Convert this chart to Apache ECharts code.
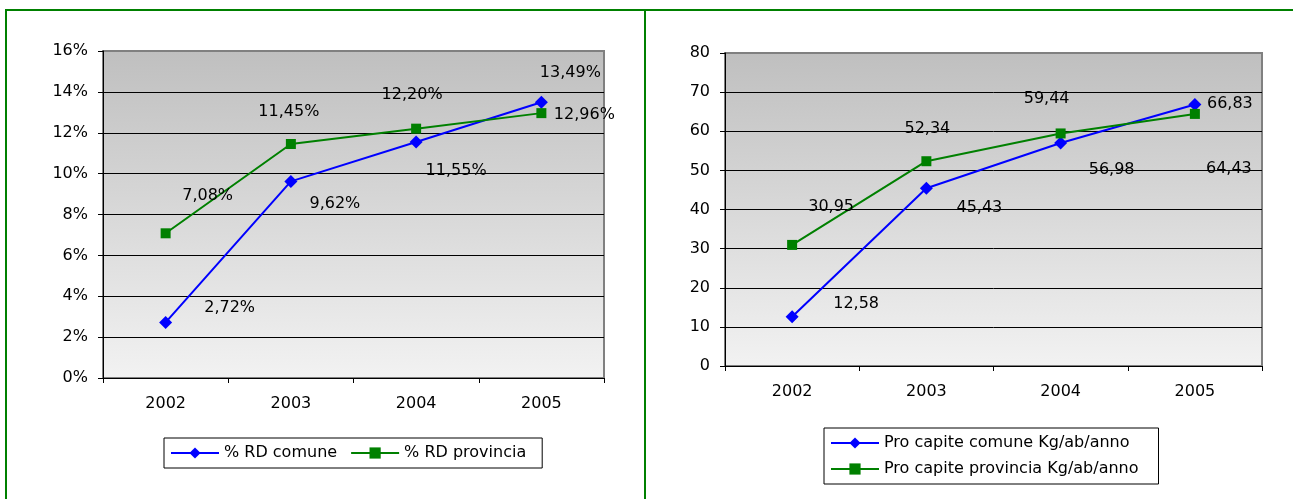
<!DOCTYPE html>
<html>
<head>
<meta charset="utf-8">
<script src="https://cdn.jsdelivr.net/npm/echarts@6/dist/echarts.min.js"></script>
<style>
  html, body { margin: 0; padding: 0; background: #fff; }
  #chart { width: 1293px; height: 499px; }
</style>
</head>
<body>
<div id="chart"></div>
<script>
// data
const years = ['2002', '2003', '2004', '2005']
const pctComune = [2.72, 9.62, 11.55, 13.49]
const pctProvincia = [7.08, 11.45, 12.20, 12.96]
const kgComune = [12.58, 45.43, 56.98, 66.83]
const kgProvincia = [30.95, 52.34, 59.44, 64.43]
const pctAxis = { min: 0, max: 16, interval: 2 }
const kgAxis = { min: 0, max: 80, interval: 10 }

// label placement (pixels from the marker), as moved around in the original sheet
const offPctComune = [[64, -15], [44, 22], [40, 29], [29, -29]]
const offPctProvincia = [[42, -37], [-2, -32], [-4, -34], [43, 2]]
const offKgComune = [[64, -13], [53, 20], [51, 27], [35, -1]]
const offKgProvincia = [[39, -38], [1, -32], [-14, -35], [34, 55]]

const font = 'DejaVu Sans'
const BLUE = '#0000ff'
const GREEN = '#008000'

const comma = v => v.toFixed(2).replace('.', ',')

function items (values, offsets) {
  return values.map((v, i) => ({ value: v, label: { offset: offsets[i] } }))
}

function plotBg () {
  return new echarts.graphic.LinearGradient(0, 0, 0, 1, [
    { offset: 0, color: '#bfbfbf' },
    { offset: 1, color: '#f2f2f2' }
  ])
}

function xAxis (gridIndex) {
  return {
    type: 'category',
    gridIndex,
    data: years,
    boundaryGap: true,
    axisLine: { lineStyle: { color: '#000', width: 1 } },
    axisTick: { show: true, length: 5, lineStyle: { color: '#000' } },
    axisLabel: { color: '#000', fontFamily: font, fontSize: 16, margin: 18 },
    splitLine: { show: false }
  }
}

function yAxis (gridIndex, range, fmt) {
  const n = (range.max - range.min) / range.interval
  const lineColors = []
  for (let i = 0; i <= n; i++) lineColors.push(i === n ? '#808080' : '#000')
  return {
    type: 'value',
    gridIndex,
    min: range.min,
    max: range.max,
    interval: range.interval,
    axisLine: { show: true, lineStyle: { color: '#000', width: 1 } },
    axisTick: { show: true, length: 5, lineStyle: { color: '#000' } },
    axisLabel: { color: '#000', fontFamily: font, fontSize: 16, margin: 15, formatter: fmt },
    splitLine: { show: true, lineStyle: { color: lineColors, width: 1 } }
  }
}

function lineSeries (name, values, offsets, color, symbol, size, idx, fmt) {
  return {
    name,
    type: 'line',
    xAxisIndex: idx,
    yAxisIndex: idx,
    data: items(values, offsets),
    symbol,
    symbolSize: size,
    lineStyle: { color, width: 2 },
    itemStyle: { color },
    label: {
      show: true,
      position: 'inside',
      color: '#000',
      fontFamily: font,
      fontSize: 16,
      formatter: p => fmt(p.value)
    },
    animation: false
  }
}

const legendBase = {
  backgroundColor: '#fff',
  borderColor: '#000',
  borderWidth: 1,
  itemWidth: 48,
  itemHeight: 14,
  textStyle: { color: '#000', fontFamily: font, fontSize: 16 }
}

const pctFmt = v => comma(v) + '%'
const kgFmt = v => comma(v)

const option = {
  animation: false,
  backgroundColor: '#fff',
  grid: [
    { left: 103, top: 51, width: 501, height: 327, show: true, backgroundColor: plotBg(), borderColor: '#808080', borderWidth: 2 },
    { left: 725, top: 53, width: 537, height: 313, show: true, backgroundColor: plotBg(), borderColor: '#808080', borderWidth: 2 }
  ],
  xAxis: [xAxis(0), xAxis(1)],
  yAxis: [
    yAxis(0, pctAxis, v => v + '%'),
    yAxis(1, kgAxis, v => v)
  ],
  legend: [
    Object.assign({}, legendBase, {
      left: 164,
      top: 438,
      orient: 'horizontal',
      padding: [7, 16, 7, 6],
      itemGap: 13,
      data: ['% RD comune', '% RD provincia']
    }),
    Object.assign({}, legendBase, {
      left: 824,
      top: 428,
      orient: 'vertical',
      padding: [7, 20, 7, 6],
      itemGap: 10,
      data: ['Pro capite comune Kg/ab/anno', 'Pro capite provincia Kg/ab/anno']
    })
  ],
  graphic: [
    { type: 'rect', shape: { x: 5, y: 9, width: 1288, height: 2 }, style: { fill: GREEN } },
    { type: 'rect', shape: { x: 5, y: 9, width: 2, height: 490 }, style: { fill: GREEN } },
    { type: 'rect', shape: { x: 644, y: 9, width: 2, height: 490 }, style: { fill: GREEN } }
  ],
  series: [
    lineSeries('% RD comune', pctComune, offPctComune, BLUE, 'diamond', 13, 0, pctFmt),
    lineSeries('% RD provincia', pctProvincia, offPctProvincia, GREEN, 'rect', 10, 0, pctFmt),
    lineSeries('Pro capite comune Kg/ab/anno', kgComune, offKgComune, BLUE, 'diamond', 13, 1, kgFmt),
    lineSeries('Pro capite provincia Kg/ab/anno', kgProvincia, offKgProvincia, GREEN, 'rect', 10, 1, kgFmt)
  ]
}

const chart = echarts.init(document.getElementById('chart'), null, { renderer: 'canvas' })
chart.setOption(option)
window.addEventListener('resize', () => chart.resize())
</script>
</body>
</html>
